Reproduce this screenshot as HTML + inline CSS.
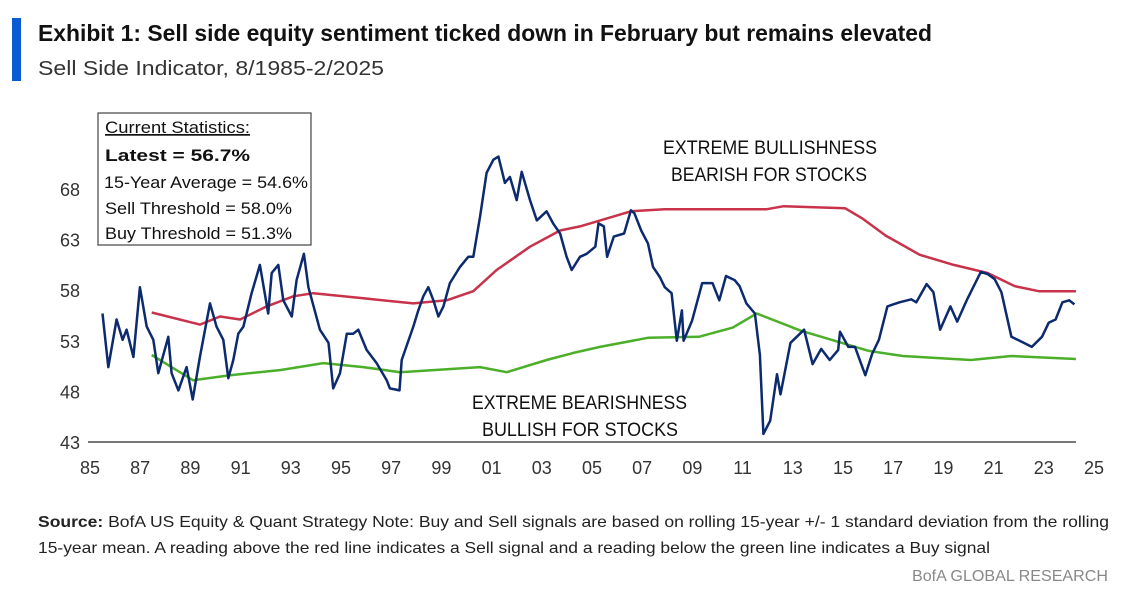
<!DOCTYPE html>
<html><head><meta charset="utf-8"><style>
html,body{margin:0;padding:0;background:#fff;}
svg{display:block;font-family:"Liberation Sans",sans-serif;}
</style></head><body>
<svg id="chart" width="1139" height="597" viewBox="0 0 1139 597">
<rect x="12" y="18" width="9" height="63" fill="#0a5ad4"/>
<text x="38" y="41" font-size="23" font-weight="bold" fill="#111" textLength="894" lengthAdjust="spacingAndGlyphs">Exhibit 1: Sell side equity sentiment ticked down in February but remains elevated</text>
<text x="38" y="75" font-size="20" fill="#333" textLength="346" lengthAdjust="spacingAndGlyphs">Sell Side Indicator, 8/1985-2/2025</text>
<g id="yticks"></g>
<g id="xticks"></g>
<line x1="88" y1="442" x2="1076" y2="442" stroke="#777" stroke-width="2"/>
<g id="series"></g>
<g>
<rect x="98" y="113" width="213" height="132" fill="#fff" stroke="#444" stroke-width="1.2"/>
<text x="105" y="133" font-size="17" fill="#111" textLength="145" lengthAdjust="spacingAndGlyphs" text-decoration="underline">Current Statistics:</text>
<text x="105" y="161" font-size="17" font-weight="bold" fill="#111" textLength="145" lengthAdjust="spacingAndGlyphs">Latest = 56.7%</text>
<text x="104" y="188" font-size="17" fill="#111" textLength="204" lengthAdjust="spacingAndGlyphs">15-Year Average = 54.6%</text>
<text x="105" y="214" font-size="17" fill="#111" textLength="187" lengthAdjust="spacingAndGlyphs">Sell Threshold = 58.0%</text>
<text x="105" y="239" font-size="17" fill="#111" textLength="187" lengthAdjust="spacingAndGlyphs">Buy Threshold = 51.3%</text>
</g>
<text x="663" y="154" font-size="19" fill="#111" textLength="214" lengthAdjust="spacingAndGlyphs">EXTREME BULLISHNESS</text>
<text x="671" y="181" font-size="19" fill="#111" textLength="196" lengthAdjust="spacingAndGlyphs">BEARISH FOR STOCKS</text>
<text x="472" y="409" font-size="19" fill="#111" textLength="215" lengthAdjust="spacingAndGlyphs">EXTREME BEARISHNESS</text>
<text x="482" y="436" font-size="19" fill="#111" textLength="196" lengthAdjust="spacingAndGlyphs">BULLISH FOR STOCKS</text>
<text x="38" y="527" font-size="16" fill="#222" textLength="1071" lengthAdjust="spacingAndGlyphs"><tspan font-weight="bold">Source:</tspan> BofA US Equity &amp; Quant Strategy Note: Buy and Sell signals are based on rolling 15-year +/- 1 standard deviation from the rolling</text>
<text x="38" y="553" font-size="16" fill="#222" textLength="952" lengthAdjust="spacingAndGlyphs">15-year mean. A reading above the red line indicates a Sell signal and a reading below the green line indicates a Buy signal</text>
<text x="1108" y="581" font-size="16" fill="#888" text-anchor="end" textLength="196" lengthAdjust="spacingAndGlyphs">BofA GLOBAL RESEARCH</text>
</svg>
<script>
const yTicks = [43, 48, 53, 58, 63, 68];
const xTickLabels = ["85","87","89","91","93","95","97","99","01","03","05","07","09","11","13","15","17","19","21","23","25"];
const indicatorYears = [85.5,85.73,86.06,86.3,86.46,86.73,86.99,87.26,87.52,87.72,88.12,88.25,88.52,88.85,89.09,89.38,89.78,90.04,90.31,90.51,90.71,90.91,91.11,91.44,91.77,92.1,92.24,92.5,92.7,93.04,93.23,93.52,93.7,94.16,94.5,94.69,94.96,95.23,95.49,95.69,96.02,96.42,96.82,96.95,97.33,97.42,97.88,98.08,98.28,98.48,98.68,98.88,99.08,99.34,99.74,100.07,100.27,100.54,100.8,101.07,101.27,101.53,101.73,102.0,102.2,102.53,102.8,103.19,103.45,103.73,103.99,104.19,104.52,104.79,105.13,105.26,105.47,105.6,105.87,106.28,106.55,106.69,106.96,107.23,107.43,107.7,107.9,108.17,108.38,108.58,108.65,108.99,109.39,109.8,110.07,110.34,110.68,110.88,111.15,111.49,111.69,111.83,112.1,112.37,112.51,112.91,113.45,113.79,114.13,114.47,114.81,114.88,115.21,115.48,115.89,116.16,116.43,116.77,117.25,117.72,117.92,118.33,118.6,118.87,119.28,119.55,119.95,120.49,120.76,121.04,121.31,121.71,122.12,122.52,122.93,123.2,123.47,123.74,124.01,124.22];
const indicatorValues = [55.7,50.4,55.1,53.1,54.1,51.4,58.3,54.4,53.1,49.8,53.4,49.8,48.1,50.4,47.2,51.4,56.7,54.4,53.1,49.3,51.1,53.7,54.4,57.7,60.5,55.7,59.7,60.5,57.0,55.4,59.0,61.6,58.3,54.1,52.8,48.3,49.8,53.7,53.7,54.1,52.1,50.8,49.1,48.3,48.1,51.1,54.4,56.0,57.4,58.3,57.0,55.4,56.4,58.7,60.3,61.3,61.3,65.3,69.6,70.9,71.2,68.6,69.2,66.9,69.7,66.9,64.9,65.8,64.6,63.6,61.3,60.0,61.3,61.6,62.3,64.6,64.3,61.3,63.3,63.6,65.9,65.6,63.9,62.6,60.3,59.3,58.3,57.7,53.0,56.0,53.0,55.0,58.7,58.7,57.0,59.4,59.0,58.4,56.7,55.7,51.6,43.8,45.1,49.7,47.7,52.8,54.1,50.7,52.2,51.1,52.1,53.9,52.4,52.4,49.6,51.7,53.1,56.4,56.8,57.1,56.8,58.6,57.8,54.1,56.4,54.9,57.1,59.8,59.6,59.1,57.8,53.4,52.9,52.4,53.4,54.8,55.1,56.8,57.0,56.6];
const sellYears = [87.46,89.38,90.18,90.98,92.04,93.1,93.9,95.89,97.88,99.21,100.27,101.2,102.53,103.73,104.52,106.55,107.9,111.97,112.64,115.08,115.76,116.7,118.06,119.41,120.76,121.85,122.8,124.28];
const sellValues = [55.8,54.6,55.4,55.1,56.4,57.4,57.7,57.2,56.7,57.0,57.9,60.0,62.3,63.9,64.3,65.8,66.0,66.0,66.3,66.1,65.1,63.4,61.5,60.5,59.7,58.4,57.9,57.9];
const buyYears = [87.46,87.92,89.11,90.58,92.57,94.3,95.89,97.35,100.54,101.6,103.19,104.26,105.32,107.23,109.26,110.61,111.56,113.32,116.03,117.38,120.09,121.71,124.28];
const buyValues = [51.6,50.9,49.1,49.6,50.1,50.8,50.4,49.9,50.4,49.9,51.1,51.8,52.4,53.3,53.4,54.3,55.7,54.0,52.0,51.5,51.1,51.5,51.2];

const NS = "http://www.w3.org/2000/svg";
function xScale(yr){ return 90 + (yr - 85) * 25.1; }
function yScale(v){ return 442 - (v - 43) * 10.12; }
function xLabelPos(i){ return 90 + i * 50.2; }

const yg = document.getElementById('yticks');
yTicks.forEach(function(t){
  const el = document.createElementNS(NS,'text');
  el.setAttribute('x', 80); el.setAttribute('y', yScale(t) + 7);
  el.setAttribute('text-anchor','end'); el.setAttribute('font-size','18'); el.setAttribute('fill','#333');
  
  
  el.textContent = t; yg.appendChild(el);
});
const xg = document.getElementById('xticks');
xTickLabels.forEach(function(t,i){
  const el = document.createElementNS(NS,'text');
  el.setAttribute('x', xLabelPos(i)); el.setAttribute('y', 474);
  el.setAttribute('text-anchor','middle'); el.setAttribute('font-size','18'); el.setAttribute('fill','#333');
  
  
  el.textContent = t; xg.appendChild(el);
});
function drawLine(xs, vs, color, width, name){
  const p = document.createElementNS(NS,'path');
  let d = '';
  xs.forEach(function(x,i){ d += (i ? 'L' : 'M') + xScale(x).toFixed(1) + ' ' + yScale(vs[i]).toFixed(1); });
  p.setAttribute('d', d); p.setAttribute('fill','none'); p.setAttribute('stroke', color);
  p.setAttribute('stroke-width', width); p.setAttribute('stroke-linejoin','round');
  
  
  document.getElementById('series').appendChild(p);
}
drawLine(sellYears, sellValues, '#c8324a', 2.5, 'sell-threshold-line');
drawLine(buyYears, buyValues, '#4caf2a', 2.5, 'buy-threshold-line');
drawLine(indicatorYears, indicatorValues, '#0c2a6e', 2.5, 'sell-side-indicator-line');
</script>
</body></html>
